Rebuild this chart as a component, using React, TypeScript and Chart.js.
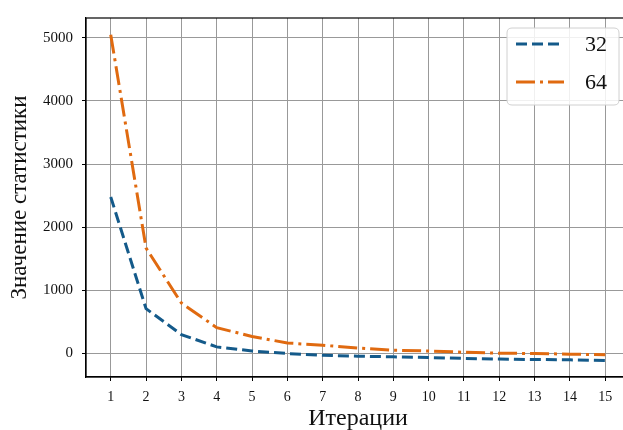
import React, { useEffect, useRef } from "react";
import { Chart, registerables } from "chart.js";

Chart.register(...registerables);

const iterations = [1, 2, 3, 4, 5, 6, 7, 8, 9, 10, 11, 12, 13, 14, 15];
const series32 = [2480, 710, 300, 105, 40, 0, -27, -42, -53, -63, -78, -88, -95, -100, -110];
const series64 = [5050, 1670, 800, 410, 270, 167, 130, 88, 52, 40, 20, 5, 0, -10, -20];
const xTicks = [1, 2, 3, 4, 5, 6, 7, 8, 9, 10, 11, 12, 13, 14, 15];
const yTicks = [0, 1000, 2000, 3000, 4000, 5000];
const labels = ["32", "64"];
const colors = ["#145a8a", "#e06a10"];
const dashes = [[11, 5], [19, 5, 3, 5]];

const FONT = "'Liberation Serif', 'Times New Roman', serif";

const framePlugin = {
  id: "frameLegend",
  afterDraw(chart: any) {
    const { ctx, chartArea } = chart;
    ctx.save();
    ctx.strokeStyle = "#000";
    ctx.lineWidth = 1.2;
    ctx.setLineDash([]);
    ctx.strokeRect(chartArea.left, chartArea.top, chartArea.right - chartArea.left, chartArea.bottom - chartArea.top);

    // legend
    const bx = 507, by = 28, bw = 112, bh = 77, r = 5;
    ctx.beginPath();
    ctx.moveTo(bx + r, by);
    ctx.lineTo(bx + bw - r, by);
    ctx.quadraticCurveTo(bx + bw, by, bx + bw, by + r);
    ctx.lineTo(bx + bw, by + bh - r);
    ctx.quadraticCurveTo(bx + bw, by + bh, bx + bw - r, by + bh);
    ctx.lineTo(bx + r, by + bh);
    ctx.quadraticCurveTo(bx, by + bh, bx, by + bh - r);
    ctx.lineTo(bx, by + r);
    ctx.quadraticCurveTo(bx, by, bx + r, by);
    ctx.closePath();
    ctx.fillStyle = "rgba(255,255,255,0.85)";
    ctx.fill();
    ctx.strokeStyle = "#d0d0d0";
    ctx.lineWidth = 1;
    ctx.stroke();

    const rows = [44, 82];
    labels.forEach((lab, i) => {
      ctx.beginPath();
      ctx.strokeStyle = colors[i];
      ctx.lineWidth = 3;
      ctx.setLineDash(dashes[i]);
      ctx.moveTo(516, rows[i]);
      ctx.lineTo(564, rows[i]);
      ctx.stroke();
      ctx.setLineDash([]);
      ctx.fillStyle = "#111";
      ctx.font = `22px ${FONT}`;
      ctx.textBaseline = "middle";
      ctx.textAlign = "left";
      ctx.fillText(lab, 585, rows[i] + 1);
    });
    ctx.restore();
  },
};

export default function App() {
  const ref = useRef<HTMLCanvasElement>(null);
  useEffect(() => {
    document.body.style.margin = "0";
    const chart = new Chart(ref.current as HTMLCanvasElement, {
      type: "line",
      data: {
        datasets: [
          {
            label: labels[0],
            data: iterations.map((x, i) => ({ x, y: series32[i] })),
            borderColor: colors[0],
            borderWidth: 3,
            borderDash: dashes[0],
            pointRadius: 0,
            tension: 0,
            fill: false,
          },
          {
            label: labels[1],
            data: iterations.map((x, i) => ({ x, y: series64[i] })),
            borderColor: colors[1],
            borderWidth: 3,
            borderDash: dashes[1],
            pointRadius: 0,
            tension: 0,
            fill: false,
          },
        ],
      },
      options: {
        animation: false,
        responsive: false,
        devicePixelRatio: 1,
        layout: { padding: { top: 15, right: 10, left: 0, bottom: 0 } },
        plugins: { legend: { display: false }, tooltip: { enabled: false } },
        scales: {
          x: {
            type: "linear",
            min: 0.3,
            max: 15.7,
            afterFit: (s: any) => { s.height = 53; },
            afterBuildTicks: (s: any) => { s.ticks = xTicks.map((v) => ({ value: v })); },
            ticks: {
              font: { family: FONT, size: 14 },
              color: "#111",
              padding: 8,
              maxRotation: 0,
              autoSkip: false,
              callback: (v: any) => String(v),
            },
            grid: { color: "#999999", lineWidth: 1, tickColor: "#000", tickLength: 4, tickWidth: 1 },
            border: { color: "#000", width: 1.2 },
            title: { display: true, text: "Итерации", font: { family: FONT, size: 24 }, color: "#111", padding: { top: 0, bottom: -3 } },
          },
          y: {
            type: "linear",
            min: -372,
            max: 5314,
            afterFit: (s: any) => { s.width = 86; },
            afterBuildTicks: (s: any) => { s.ticks = yTicks.map((v) => ({ value: v })); },
            ticks: {
              font: { family: FONT, size: 15 },
              color: "#111",
              padding: 9,
              callback: (v: any) => String(v),
            },
            grid: { color: "#999999", lineWidth: 1, tickColor: "#000", tickLength: 4, tickWidth: 1 },
            border: { color: "#000", width: 1.2 },
            title: { display: true, text: "Значение статистики", font: { family: FONT, size: 23 }, color: "#111", padding: { top: 6, bottom: 0 } },
          },
        },
      },
      plugins: [framePlugin],
    } as any);
    return () => chart.destroy();
  }, []);
  return (
    <div style={{ position: "fixed", left: 0, top: 0, width: 623, height: 430, overflow: "hidden", background: "#fff" }}>
      <canvas ref={ref} width={640} height={430} style={{ display: "block", width: 640, height: 430 }} />
    </div>
  );
}
